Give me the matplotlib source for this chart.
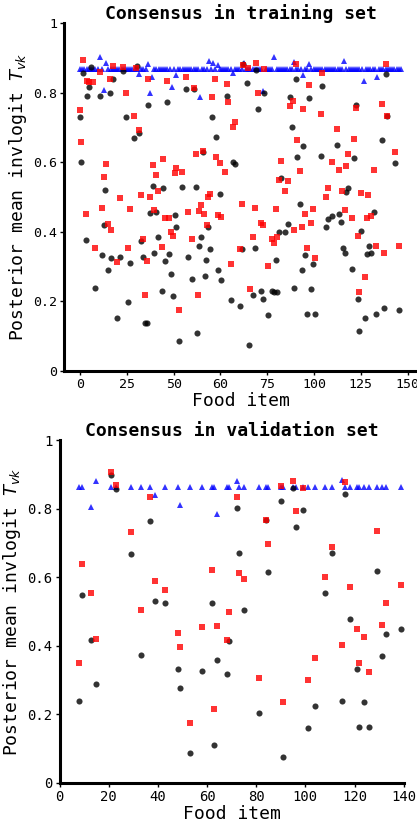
import matplotlib
matplotlib.use("Agg")
import matplotlib.pyplot as plt

plt.rcParams['font.family'] = 'monospace'
plt.rcParams['font.monospace'] = ['DejaVu Sans Mono']

# ==========================================
# training set (x = food item position)
# ==========================================
train_blue_x = list(range(148))
train_blue_y = [
    0.867, 0.867, 0.867, 0.867, 0.867, 0.867, 0.867, 0.867, 0.867, 0.904,
    0.867, 0.808, 0.885, 0.867, 0.867, 0.867, 0.867, 0.867, 0.867, 0.867,
    0.867, 0.867, 0.867, 0.867, 0.867, 0.867, 0.867, 0.854, 0.867, 0.867,
    0.867, 0.883, 0.800, 0.844, 0.867, 0.867, 0.867, 0.867, 0.867, 0.867,
    0.867, 0.867, 0.817, 0.867, 0.851, 0.867, 0.867, 0.867, 0.867, 0.867,
    0.867, 0.867, 0.867, 0.867, 0.867, 0.788, 0.867, 0.867, 0.867, 0.891,
    0.867, 0.885, 0.867, 0.880, 0.867, 0.867, 0.867, 0.867, 0.867, 0.867,
    0.858, 0.867, 0.867, 0.867, 0.867, 0.885, 0.867, 0.867, 0.867, 0.867,
    0.867, 0.867, 0.867, 0.867, 0.806, 0.867, 0.867, 0.867, 0.867, 0.902,
    0.867, 0.867, 0.867, 0.867, 0.867, 0.867, 0.867, 0.867, 0.889, 0.867,
    0.867, 0.867, 0.851, 0.867, 0.867, 0.883, 0.867, 0.867, 0.867, 0.867,
    0.867, 0.867, 0.867, 0.867, 0.867, 0.867, 0.867, 0.867, 0.867, 0.867,
    0.867, 0.891, 0.867, 0.867, 0.867, 0.867, 0.867, 0.867, 0.867, 0.867,
    0.834, 0.867, 0.867, 0.867, 0.867, 0.867, 0.846, 0.867, 0.867, 0.867,
    0.867, 0.867, 0.867, 0.867, 0.867, 0.867, 0.867, 0.867,
]

train_black_x = [
    0.0, 0.6, 1.5, 2.5, 3.2, 4.0, 5.0, 6.7, 9.2, 10.1, 11.0, 11.6, 12.6, 13.5,
    14.4, 15.3, 16.8, 18.5, 19.6, 21.1, 22.0, 22.9, 24.6, 26.0, 27.2, 28.0,
    28.7, 29.7, 30.5, 31.3, 32.2, 33.3, 33.9, 34.8, 35.8, 37.5, 38.2, 39.0,
    39.9, 40.7, 41.8, 42.5, 43.4, 44.1, 45.1, 46.8, 48.6, 49.6, 51.1, 52.2,
    52.9, 53.8, 54.6, 55.4, 56.2, 57.1, 57.9, 58.8, 59.7, 60.5, 62.1, 63.0,
    64.0, 64.7, 67.5, 69.0, 70.1, 70.8, 73.4, 74.1, 74.6, 76.6, 77.6, 79.2,
    80.1, 80.8, 81.7, 82.8, 83.7, 84.3, 86.1, 87.7, 88.7, 89.6, 90.3, 91.2,
    92.1, 93.7, 95.4, 96.3, 97.3, 98.0, 98.8, 99.5, 100.6, 101.6, 102.2,
    103.2, 104.1, 104.9, 105.9, 106.6, 107.5, 110.4, 110.8, 112.5, 113.5,
    115.2, 117.9, 118.6, 119.4, 120.3, 121.2, 122.0, 122.9, 124.5, 125.4,
    126.3, 127.2, 128.0, 128.8, 130.5, 131.4, 132.2, 133.1, 134.8, 135.7,
    138.2, 139.2, 140.1, 140.7, 144.2, 145.9,
]
train_black_y = [
    0.731, 0.602, 0.856, 0.376, 0.790, 0.816, 0.875, 0.238, 0.792, 0.332, 0.419, 0.519, 0.290, 0.800,
    0.323, 0.840, 0.151, 0.327, 0.862, 0.731, 0.199, 0.309, 0.671, 0.876, 0.685, 0.373,
    0.328, 0.138, 0.138, 0.766, 0.455, 0.532, 0.338, 0.458, 0.384, 0.230, 0.525, 0.316,
    0.773, 0.335, 0.278, 0.215, 0.448, 0.414, 0.086, 0.528, 0.810, 0.328, 0.263, 0.810,
    0.528, 0.109, 0.360, 0.384, 0.629, 0.273, 0.319, 0.414, 0.350, 0.730, 0.674, 0.289,
    0.509, 0.261, 0.790, 0.203, 0.600, 0.594, 0.185, 0.349, 0.884, 0.827, 0.075, 0.217,
    0.353, 0.866, 0.754, 0.229, 0.205, 0.800, 0.159, 0.230, 0.226, 0.318, 0.227, 0.398,
    0.556, 0.400, 0.421, 0.788, 0.700, 0.239, 0.840, 0.615, 0.480, 0.290, 0.647,
    0.334, 0.162, 0.786, 0.235, 0.308, 0.164, 0.619, 0.819, 0.414, 0.437,
    0.445, 0.650, 0.451, 0.429, 0.352, 0.338, 0.513, 0.525, 0.294, 0.611,
    0.766, 0.205, 0.113, 0.401, 0.151, 0.335, 0.359, 0.338, 0.457, 0.162,
    0.665, 0.180, 0.854, 0.733, 0.597, 0.174,
]

train_red_x = [
    0.0, 0.6, 1.5, 2.5, 3.2, 4.3, 5.8, 6.7, 9.3, 10.1, 10.8, 11.9, 12.6, 13.5,
    14.4, 15.3, 16.8, 18.4, 19.6, 21.1, 22.0, 22.9, 24.6, 25.7, 27.2, 28.0,
    28.7, 29.7, 30.5, 31.3, 32.2, 33.3, 33.9, 34.8, 35.8, 37.5, 38.2, 39.0,
    39.9, 40.7, 41.8, 42.5, 43.4, 44.0, 45.1, 46.8, 48.6, 49.6, 51.1, 52.2,
    52.9, 53.9, 54.7, 55.4, 56.2, 57.0, 58.1, 58.7, 59.7, 60.5, 61.6, 62.1,
    63.0, 64.0, 64.7, 66.6, 67.5, 67.9, 69.0, 70.1, 70.8, 73.4, 74.1, 74.6,
    76.9, 77.7, 79.2, 80.2, 80.8, 81.7, 82.9, 83.7, 84.3, 86.1, 87.7, 88.7,
    89.6, 90.3, 91.2, 92.1, 93.7, 95.4, 96.3, 97.5, 98.1, 98.8, 99.5, 100.6,
    101.6, 102.2, 103.2, 104.1, 104.9, 105.9, 106.6, 107.5, 110.4, 110.8,
    112.5, 113.4, 115.2, 117.9, 118.7, 119.8, 121.2, 122.0, 122.9, 124.5,
    125.4, 126.3, 127.2, 128.0, 128.6, 130.5, 131.4, 132.0, 133.1, 134.8,
    135.7, 138.2, 139.2, 140.1, 140.7, 144.2, 145.9,
]
train_red_y = [
    0.750, 0.657, 0.894, 0.451, 0.835, 0.830, 0.830, 0.352, 0.860, 0.467, 0.558, 0.595, 0.422, 0.840,
    0.405, 0.878, 0.312, 0.496, 0.875, 0.800, 0.354, 0.464, 0.734, 0.870, 0.693, 0.506,
    0.378, 0.218, 0.317, 0.840, 0.499, 0.593, 0.462, 0.563, 0.517, 0.355, 0.608, 0.440,
    0.833, 0.440, 0.400, 0.388, 0.570, 0.582, 0.175, 0.572, 0.844, 0.457, 0.378, 0.815,
    0.625, 0.218, 0.460, 0.477, 0.632, 0.451, 0.419, 0.500, 0.510, 0.788, 0.839, 0.615,
    0.449, 0.598, 0.442, 0.571, 0.826, 0.772, 0.307, 0.700, 0.716, 0.349, 0.480, 0.879,
    0.870, 0.235, 0.386, 0.468, 0.885, 0.798, 0.426, 0.420, 0.867, 0.302, 0.378, 0.367,
    0.465, 0.385, 0.549, 0.604, 0.517, 0.547, 0.762, 0.777, 0.405, 0.884, 0.664, 0.576,
    0.414, 0.752, 0.451, 0.352, 0.822, 0.426, 0.464, 0.324, 0.738, 0.857,
    0.500, 0.527, 0.602, 0.697, 0.579, 0.518, 0.462, 0.589, 0.625, 0.440,
    0.667, 0.757, 0.388, 0.227, 0.511, 0.271, 0.440, 0.507, 0.445, 0.578,
    0.359, 0.768, 0.339, 0.883, 0.733, 0.630, 0.359,
]

train_xtick_pos = [0, 150 / 7, 300 / 7, 450 / 7, 600 / 7, 750 / 7, 900 / 7, 150]
train_xtick_labels = ['0', '25', '50', '60', '75', '100', '125', '150']

# ==========================================
# validation set
# ==========================================
val_x = [8, 9, 13, 15, 21, 23, 29, 33, 37, 39, 43, 48, 49, 53, 58, 62, 63, 64, 68, 69,
         72, 73, 75, 81, 84, 85, 90, 91, 95, 96, 99, 101, 104, 108, 111, 115, 116, 118,
         121, 122, 124, 126, 129, 131, 133, 139]
val_blue = [0.864, 0.864, 0.804, 0.881, 0.864, 0.864, 0.864, 0.864, 0.864, 0.840,
            0.864, 0.864, 0.811, 0.864, 0.864, 0.864, 0.864, 0.784, 0.864, 0.864,
            0.881, 0.864, 0.864, 0.864, 0.864, 0.864, 0.864, 0.864, 0.864, 0.864,
            0.864, 0.864, 0.864, 0.864, 0.864, 0.884, 0.864, 0.864, 0.864, 0.864,
            0.864, 0.864, 0.864, 0.864, 0.864, 0.864]
val_black = [0.238, 0.547, 0.417, 0.289, 0.897, 0.857, 0.668, 0.372, 0.765, 0.530,
             0.524, 0.333, 0.277, 0.087, 0.326, 0.526, 0.109, 0.359, 0.317, 0.413,
             0.803, 0.670, 0.505, 0.203, 0.767, 0.615, 0.822, 0.075, 0.860, 0.747,
             0.796, 0.159, 0.223, 0.555, 0.670, 0.239, 0.842, 0.478, 0.332, 0.162,
             0.235, 0.164, 0.618, 0.371, 0.435, 0.450]
val_red = [0.350, 0.638, 0.554, 0.420, 0.907, 0.870, 0.731, 0.503, 0.834, 0.588,
           0.562, 0.438, 0.397, 0.173, 0.455, 0.620, 0.216, 0.458, 0.418, 0.498,
           0.834, 0.612, 0.595, 0.306, 0.767, 0.697, 0.865, 0.236, 0.881, 0.793,
           0.861, 0.301, 0.365, 0.601, 0.687, 0.403, 0.878, 0.572, 0.449, 0.350,
           0.425, 0.323, 0.734, 0.460, 0.524, 0.577]

ytick_pos = [0, 0.2, 0.4, 0.6, 0.8, 1.0]
ytick_labels = ['0', '0.2', '0.4', '0.6', '0.8', '1']


def style_axes(ax, tick_size):
    ax.spines['top'].set_visible(False)
    ax.spines['right'].set_visible(False)
    ax.spines['left'].set_linewidth(2.2)
    ax.spines['bottom'].set_linewidth(2.2)
    ax.tick_params(direction='out', length=3, width=1, labelsize=tick_size, pad=2)
    ax.set_ylim(0, 1)
    ax.set_yticks(ytick_pos)
    ax.set_yticklabels(ytick_labels)
    ax.set_xlabel('Food item', fontsize=13, labelpad=1)
    ax.set_ylabel(r'Posterior mean invlogit $T_{vk}$', fontsize=13, labelpad=3)


def draw(ax, xb, yb, xk, yk, xr, yr):
    ax.plot(xb, yb, linestyle='none', marker='^', ms=4.6, mew=0, color='blue', alpha=0.8)
    ax.plot(xk, yk, linestyle='none', marker='o', ms=4.4, mew=0, color='black', alpha=0.8)
    ax.plot(xr, yr, linestyle='none', marker='s', ms=4.0, mew=0, color='red', alpha=0.8)


fig = plt.figure(figsize=(4.17, 8.24), dpi=100)

# top: training set
ax1 = fig.add_axes([0.1535, 0.5501, 0.8465, 0.4217])
draw(ax1, train_blue_x, train_blue_y, train_black_x, train_black_y, train_red_x, train_red_y)
ax1.set_xlim(-7.35, 154.35)
ax1.set_xticks(train_xtick_pos)
ax1.set_xticklabels(train_xtick_labels)
style_axes(ax1, 9.5)
ax1.set_title('Consensus in training set', fontsize=13, fontweight='bold', pad=3)

# bottom: validation set
ax2 = fig.add_axes([0.1427, 0.0501, 0.8254, 0.4157])
draw(ax2, val_x, val_blue, val_x, val_black, val_x, val_red)
ax2.set_xlim(0, 140)
ax2.set_xticks([0, 20, 40, 60, 80, 100, 120, 140])
style_axes(ax2, 10)
ax2.set_title('Consensus in validation set', fontsize=13, fontweight='bold', pad=3)

fig.savefig('out.png', dpi=100)
